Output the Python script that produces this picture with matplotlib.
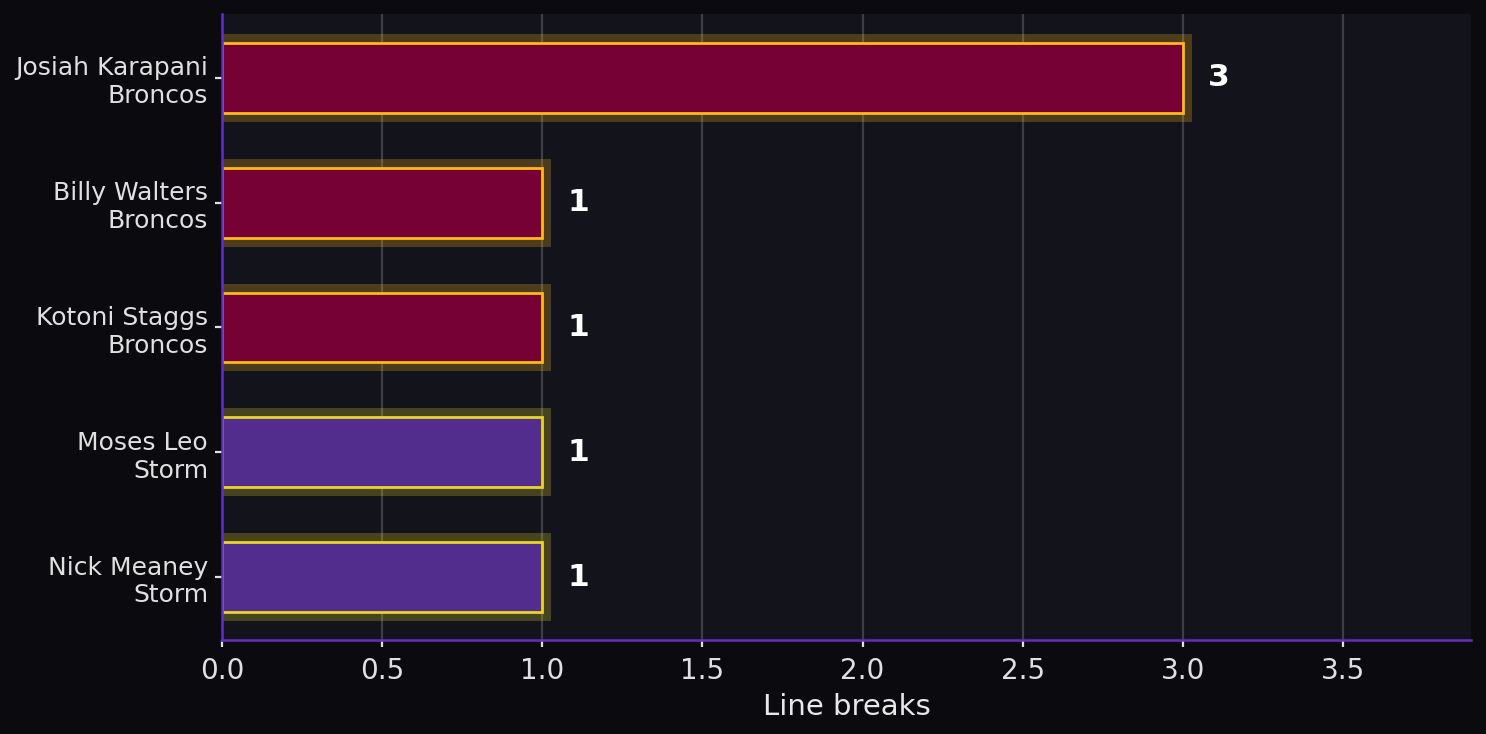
import matplotlib
matplotlib.use('Agg')
import matplotlib.pyplot as plt

players=['Nick Meaney\nStorm','Moses Leo\nStorm','Kotoni Staggs\nBroncos','Billy Walters\nBroncos','Josiah Karapani\nBroncos']
teams=['Storm','Storm','Broncos','Broncos','Broncos']
breaks=[1,1,1,1,3]

fill={'Broncos':'#760135','Storm':'#532d8e'}
edge={'Broncos':'#ffb81c','Storm':'#e8d52c'}

fig,ax=plt.subplots(figsize=(7.43,3.67),dpi=200)
fig.patch.set_facecolor('#0b0b0f')
ax.set_facecolor('#12131b')
fig.subplots_adjust(left=0.1494,right=0.9899,top=0.981,bottom=0.128)

y=range(len(players))
fc=[fill[t] for t in teams]
ec=[edge[t] for t in teams]
# glow behind the bars
ax.barh(y,breaks,height=0.56,color='none',edgecolor=ec,linewidth=6.5,alpha=0.25,zorder=2)
ax.barh(y,breaks,height=0.56,color=fc,edgecolor=ec,linewidth=1.0,zorder=3)

for i,v in enumerate(breaks):
  ax.text(v+0.078,i,str(v),va='center',ha='left',color='white',fontsize=11.3,fontweight='bold',zorder=4)

ax.set_xlim(0,3.9)
ax.set_ylim(-0.505,4.513)
ax.set_yticks(list(y))
ax.set_yticklabels(players,fontsize=9,color='#e0e0e0')
ax.tick_params(axis='x',colors='#e0e0e0',labelsize=10,length=2.5,width=0.8)
ax.tick_params(axis='y',colors='#e0e0e0',length=2.5,width=0.8,pad=2.5)
ax.set_xlabel('Line breaks',color='#e8e8e8',fontsize=10.5,labelpad=3)
ax.grid(axis='x',color='#46464b',linewidth=0.8,alpha=0.85,zorder=0)
ax.set_axisbelow(True)
for s in ['top','right']:
  ax.spines[s].set_visible(False)
for s in ['left','bottom']:
  ax.spines[s].set_color('#6130c0')
  ax.spines[s].set_linewidth(0.9)
  ax.spines[s].set_zorder(5)

fig.savefig('out.png',dpi=200,facecolor=fig.get_facecolor())
